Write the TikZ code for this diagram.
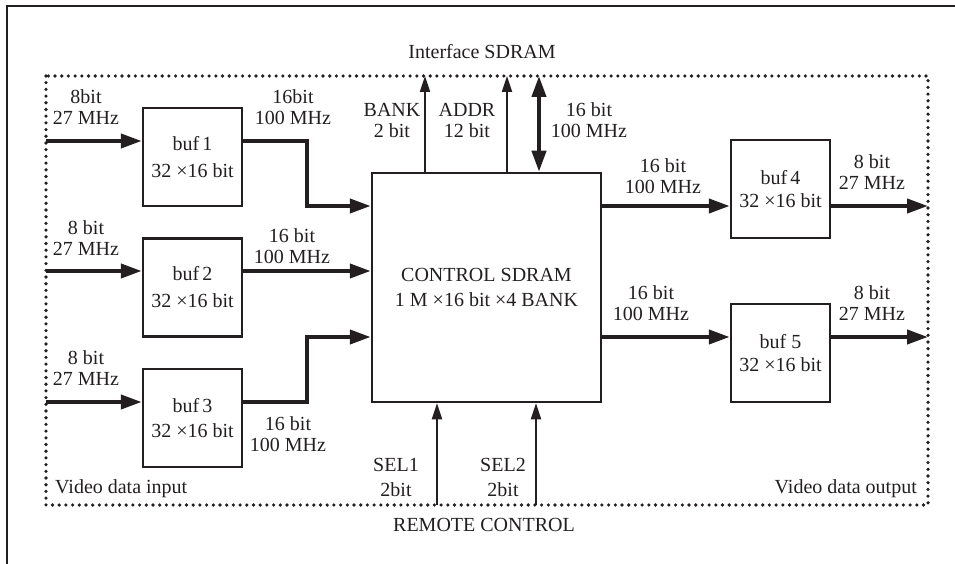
\documentclass[tikz,border=0pt]{standalone}
\usepackage{fontspec}
\setmainfont{Liberation Serif}
\usepackage{xcolor}
\usetikzlibrary{arrows.meta, positioning}

\definecolor{ink}{RGB}{35,31,32}

\tikzset{
  bufbox/.style={draw=ink, line width=2.5pt, minimum width=99pt, minimum height=98pt,
    inner sep=0pt, align=center},
  lbl/.style={align=center, inner sep=0pt},
  bus/.style={line width=4pt, -{Triangle[length=21pt, width=14pt]}},
  sig/.style={line width=2pt, -{Triangle[length=16pt, width=10pt]}},
}

\begin{document}
\begin{tikzpicture}[
  x=1pt, y=-1pt,
  every node/.style={font=\fontsize{20}{21}\selectfont, text=ink},
  ink
]
\useasboundingbox (0,0) rectangle (955,564);

% outer frame (top and left only)
\draw[line width=1.6pt] (955,6) -- (7,6) -- (7,564);

% dotted border
\draw[line width=3.6pt, line cap=round, dash pattern=on 0pt off 6.7pt]
  (46,76) rectangle (928,505);

% Boxes
\node (buf1) [bufbox] at (192.5,157) {buf\,1\\[6pt]32 ×16 bit};
\node (buf2) [bufbox] at (192.5,287.5) {buf\,2\\[6pt]32 ×16 bit};
\node (buf3) [bufbox] at (192.5,418) {buf\,3\\[4pt]32 ×16 bit};
\node (ctrl) [bufbox, minimum width=229pt, minimum height=229pt] at (486.5,287.5)
  {CONTROL SDRAM\\[4pt]1 M ×16 bit ×4 BANK};
\node (buf4) [bufbox] at (780.5,189) {buf\,4\\[2pt]32 ×16 bit};
\node (buf5) [bufbox] at (780.5,353) {buf 5\\[2pt]32 ×16 bit};

% free ends on the dotted border
\coordinate (in1) at (46,141);
\coordinate (in2) at (46,271);
\coordinate (in3) at (46,402);
\coordinate (out4) at (928,206);
\coordinate (out5) at (928,337);
\coordinate (bank) at (425,76);
\coordinate (addr) at (507,76);
\coordinate (data) at (539,76);
\coordinate (sel1) at (437,505);
\coordinate (sel2) at (536,505);
\coordinate (bend) at (307,0);

% Input side
\draw[bus] (in1) -- (in1 -| buf1.west);
\draw[bus] (in2) -- (in2 -| buf2.west);
\draw[bus] (in3) -- (in3 -| buf3.west);
\draw[bus] (in1 -| buf1.east) -- (bend |- in1) |- (ctrl.west |- out4);
\draw[bus] (in2 -| buf2.east) -- (in2 -| ctrl.west);
\draw[bus] (in3 -| buf3.east) -- (bend |- in3) |- (ctrl.west |- out5);

% Output side
\draw[bus] (ctrl.east |- out4) -- (buf4.west |- out4);
\draw[bus] (buf4.east |- out4) -- (out4);
\draw[bus] (ctrl.east |- out5) -- (buf5.west |- out5);
\draw[bus] (buf5.east |- out5) -- (out5);

% SDRAM interface and remote control
\draw[sig] (bank |- ctrl.north) -- (bank);
\draw[sig] (addr |- ctrl.north) -- (addr);
\draw[bus, {Triangle[length=21pt, width=14pt]}-{Triangle[length=21pt, width=14pt]}]
  (data |- ctrl.north) -- (data);
\draw[sig] (sel1) -- (sel1 |- ctrl.south);
\draw[sig] (sel2) -- (sel2 |- ctrl.south);

% Labels
\node (l-in1) [lbl] at (86,107) {8bit\\27 MHz};
\node (l-in2) [lbl] at (86,238) {8 bit\\27 MHz};
\node (l-in3) [lbl] at (86,368) {8 bit\\27 MHz};
\node (l-b1) [lbl] at (293,107) {16bit\\100 MHz};
\node (l-b2) [lbl] at (292,246) {16 bit\\100 MHz};
\node (l-b3) [lbl] at (288,434) {16 bit\\100 MHz};
\node (l-bank) [lbl] at (392,120) {BANK\\2 bit};
\node (l-addr) [lbl] at (467,120) {ADDR\\12 bit};
\node (l-data) [lbl] at (589,120) {16 bit\\100 MHz};
\node (l-c4) [lbl] at (663,176) {16 bit\\100 MHz};
\node (l-c5) [lbl] at (651,303) {16 bit\\100 MHz};
\node (l-o4) [lbl] at (872,172) {8 bit\\27 MHz};
\node (l-o5) [lbl] at (872,303) {8 bit\\27 MHz};
\node (l-sel1) [lbl, font=\fontsize{20}{25}\selectfont] at (396,477) {SEL1\\2bit};
\node (l-sel2) [lbl, font=\fontsize{20}{25}\selectfont] at (503,477) {SEL2\\2bit};
\node (iface) [lbl] at (482,52) {Interface SDRAM};
\node (remote) [lbl] at (484,525) {REMOTE CONTROL};
\node (vin) [lbl, anchor=west] at (55,489) {Video data input};
\node (vout) [lbl, anchor=east] at (917,489) {Video data output};
\end{tikzpicture}
\end{document}
